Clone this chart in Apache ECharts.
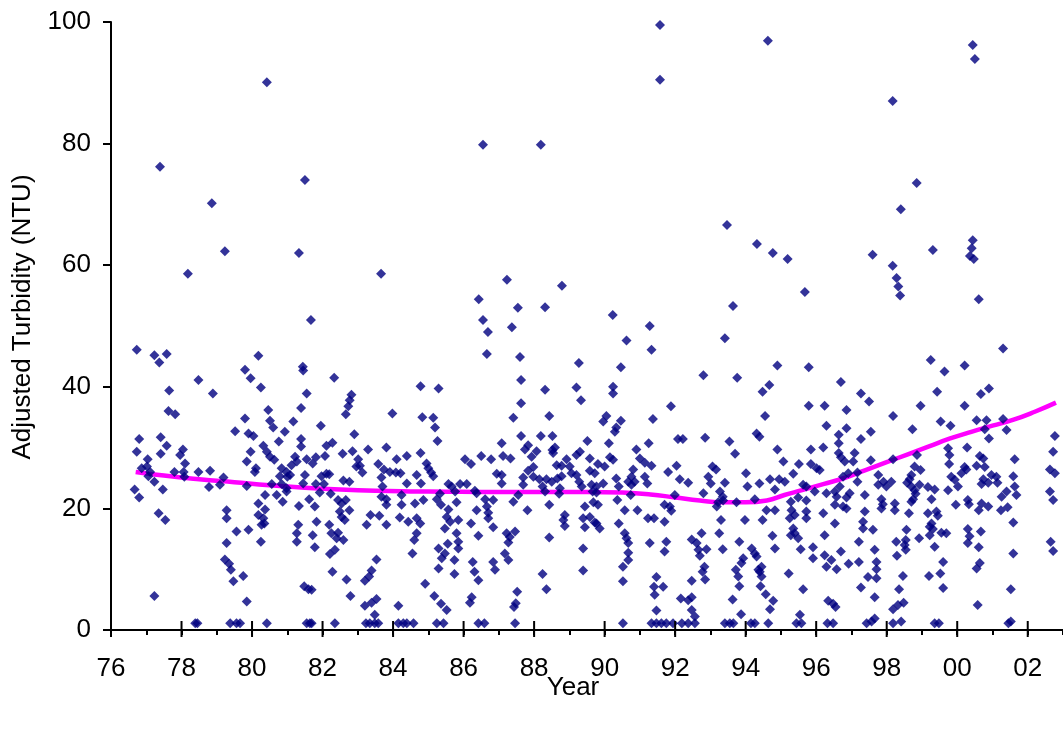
<!DOCTYPE html>
<html>
<head>
<meta charset="utf-8">
<script src="https://cdn.jsdelivr.net/npm/echarts@6/dist/echarts.min.js"></script>
<style>
html,body{margin:0;padding:0;background:#fff;}
#c{width:1063px;height:731px;}
</style>
</head>
<body>
<div id="c"></div>
<script>
// ---- Data (year, adjusted turbidity NTU) ----
const obs1976_1979 = [
[1976.73,46.1],[1977.23,45.2],[1977.37,44.0],[1977.58,45.4],[1978.48,41.1],[1978.89,38.9],[1977.65,39.4],[1977.63,36.0],
[1977.82,35.5],[1976.80,31.4],[1977.41,31.7],[1976.73,29.3],[1977.58,30.3],[1977.41,29.0],[1978.04,29.7],[1977.96,28.8],
[1977.04,28.1],[1978.10,27.4],[1976.87,26.6],[1977.02,26.9],[1977.11,26.0],[1977.06,25.3],[1977.80,26.0],[1978.06,26.0],
[1978.08,25.2],[1978.48,26.0],[1978.81,26.2],[1977.23,24.4],[1976.67,23.1],[1976.80,21.8],[1977.47,23.1],[1978.78,23.5],
[1977.35,19.2],[1977.54,18.1],[1977.23,5.6],[1978.39,1.1],[1978.45,1.1],[1977.39,76.2],[1978.18,58.6],[1978.86,70.2],
[1979.23,62.3]
];
const obs1979_1981 = [
[1980.18,45.1],[1979.80,42.8],[1979.96,41.4],[1980.25,39.9],[1981.44,43.3],[1981.45,42.7],[1981.55,38.9],[1980.46,36.2],
[1981.39,36.5],[1979.80,34.8],[1980.51,34.4],[1980.60,33.3],[1981.17,34.3],[1979.52,32.7],[1979.90,32.3],[1980.04,31.9],
[1980.93,32.6],[1980.76,31.0],[1981.39,31.4],[1980.32,30.3],[1981.39,30.2],[1980.42,29.3],[1979.96,29.3],[1980.51,28.5],
[1980.63,28.0],[1981.22,28.5],[1981.55,28.1],[1979.85,27.7],[1980.11,26.6],[1980.08,26.0],[1980.84,26.6],[1980.98,26.0],
[1981.12,27.1],[1981.27,27.7],[1980.79,25.3],[1981.00,25.2],[1981.08,25.5],[1981.50,25.5],[1979.09,23.9],[1979.19,25.1],
[1979.85,23.7],[1980.56,24.0],[1980.84,24.0],[1980.98,23.3],[1981.45,24.1],[1980.70,22.2],[1980.98,22.8],[1981.62,21.5],
[1980.37,22.2],[1980.18,20.8],[1980.87,21.1],[1981.33,20.4],[1979.28,19.7],[1979.28,18.4],[1980.37,19.8],[1980.18,18.9],
[1980.32,18.4],[1980.35,17.5],[1980.27,17.3],[1979.56,16.2],[1979.90,16.5],[1981.31,17.3],[1981.27,15.9],[1981.27,14.5],
[1979.28,14.3],[1980.25,14.5],[1979.23,11.6],[1979.35,10.9],[1979.40,9.9],[1979.47,8.0],[1979.75,8.9],[1979.85,4.7],
[1981.48,7.2],[1981.60,6.7],[1979.38,1.1],[1979.56,1.1],[1979.66,1.1],[1980.42,1.1],[1981.55,1.1],[1981.64,1.1],
[1980.42,90.1],[1981.50,74.0],[1981.33,62.0],[1981.67,51.0]
];
const obs1981_1984 = [
[1982.33,41.5],[1982.82,38.7],[1982.77,37.8],[1982.73,36.8],[1982.66,35.5],[1983.98,35.6],[1981.95,33.6],[1982.90,32.2],
[1982.28,30.8],[1982.11,30.3],[1982.57,29.0],[1982.85,29.4],[1983.29,29.7],[1983.81,30.0],[1981.81,28.4],[1982.07,28.6],
[1981.72,27.4],[1983.01,28.1],[1983.06,27.0],[1982.96,26.9],[1983.13,25.9],[1983.58,27.3],[1983.74,26.4],[1983.91,26.0],
[1984.08,25.9],[1984.21,25.8],[1984.10,28.1],[1981.97,25.3],[1982.11,25.7],[1982.19,25.6],[1981.81,24.0],[1982.04,24.0],
[1982.59,24.6],[1982.76,24.4],[1983.67,25.1],[1983.70,23.6],[1981.92,22.6],[1982.23,22.4],[1982.44,21.4],[1982.54,20.8],
[1982.66,21.4],[1983.67,21.9],[1983.81,21.5],[1983.81,20.6],[1984.24,22.2],[1984.24,20.6],[1981.78,20.3],[1982.49,19.5],
[1982.76,19.7],[1982.54,18.6],[1982.63,18.1],[1983.36,18.9],[1983.61,18.8],[1984.19,18.5],[1981.83,17.8],[1982.19,17.3],
[1983.25,17.3],[1983.81,17.3],[1981.72,15.6],[1982.25,15.9],[1982.44,16.0],[1982.40,15.1],[1982.59,14.8],[1981.78,13.6],
[1982.35,13.2],[1982.21,12.5],[1983.53,11.6],[1982.28,9.6],[1983.39,9.8],[1983.32,8.8],[1983.20,8.1],[1982.68,8.3],
[1981.69,6.6],[1982.79,5.6],[1983.53,5.1],[1983.39,4.5],[1983.20,4.0],[1983.48,2.5],[1984.15,4.0],[1981.69,1.1],
[1982.35,1.1],[1983.23,1.1],[1983.34,1.1],[1983.48,1.1],[1983.58,1.1],[1984.15,1.1],[1984.29,1.1],[1983.66,58.6]
];
const obs1984_1987 = [
[1986.66,45.4],[1984.78,40.1],[1985.29,39.7],[1984.83,35.0],[1985.14,34.9],[1985.19,33.3],[1985.26,31.1],[1984.39,28.6],
[1984.78,29.1],[1984.95,27.4],[1985.00,26.6],[1985.08,25.9],[1985.14,25.3],[1984.67,25.5],[1984.79,24.1],[1984.39,24.1],
[1986.04,28.1],[1986.21,27.3],[1986.50,28.6],[1986.78,28.1],[1986.94,25.7],[1985.57,24.0],[1985.66,23.6],[1985.76,22.8],
[1985.90,24.0],[1986.09,24.0],[1986.32,22.9],[1986.37,22.5],[1985.33,22.4],[1984.86,21.4],[1984.62,20.8],[1985.24,21.5],
[1985.36,20.6],[1985.80,21.0],[1986.61,21.5],[1986.84,21.4],[1986.66,20.3],[1985.57,19.8],[1986.37,19.7],[1986.70,19.3],
[1986.70,18.4],[1984.43,17.8],[1984.67,18.4],[1984.77,17.5],[1985.52,18.6],[1985.62,17.8],[1985.85,18.1],[1985.47,16.7],
[1986.21,17.5],[1986.84,16.9],[1985.80,15.9],[1986.42,15.5],[1984.67,15.9],[1984.60,14.8],[1985.85,14.5],[1985.85,13.4],
[1985.55,14.2],[1985.29,13.4],[1984.55,12.6],[1985.47,12.6],[1985.38,11.8],[1985.74,11.5],[1986.26,11.2],[1986.84,11.2],
[1986.89,9.9],[1985.29,10.1],[1986.31,9.6],[1985.74,9.2],[1986.42,8.2],[1984.91,7.6],[1985.17,5.6],[1986.23,5.4],
[1986.18,4.5],[1985.36,4.3],[1985.52,3.3],[1984.39,1.1],[1984.58,1.1],[1985.24,1.1],[1985.43,1.1],[1986.42,1.1],
[1986.59,1.1],[1986.43,54.4],[1986.55,51.0],[1986.69,49.0],[1986.55,79.8]
];
const obs1987_1989 = [
[1987.60,44.9],[1987.63,41.1],[1987.63,37.3],[1987.41,34.9],[1989.27,43.9],[1988.31,39.5],[1989.20,39.9],[1989.33,37.8],
[1988.43,35.2],[1987.63,31.9],[1988.19,31.9],[1988.52,31.9],[1987.08,30.7],[1987.83,30.4],[1987.74,29.7],[1988.07,29.4],
[1988.52,29.6],[1988.59,30.0],[1988.54,29.1],[1989.51,31.1],[1989.30,29.3],[1989.20,28.8],[1989.58,28.2],[1987.33,28.2],
[1987.12,28.6],[1987.93,28.5],[1988.92,28.1],[1987.98,26.8],[1987.83,26.2],[1988.64,27.1],[1988.78,27.0],[1989.01,26.9],
[1989.58,26.2],[1989.72,25.8],[1987.08,25.5],[1987.69,25.1],[1987.98,25.2],[1988.15,24.8],[1988.35,24.8],[1988.50,24.4],
[1988.66,24.9],[1988.78,25.3],[1989.06,25.8],[1989.20,25.5],[1989.28,24.4],[1987.69,23.9],[1988.24,23.6],[1988.31,22.8],
[1988.73,23.3],[1989.35,23.6],[1989.63,23.9],[1989.66,22.8],[1987.08,24.1],[1987.55,22.2],[1987.41,21.1],[1988.71,22.4],
[1988.43,20.6],[1989.44,20.3],[1989.68,21.0],[1987.81,19.7],[1988.87,18.9],[1989.39,18.4],[1989.58,18.6],[1988.83,18.1],
[1988.87,17.1],[1989.44,16.9],[1989.72,17.7],[1987.22,15.9],[1987.46,16.2],[1987.31,15.3],[1987.27,14.4],[1988.43,15.2],
[1989.39,13.4],[1987.17,12.6],[1987.27,11.5],[1989.39,9.8],[1988.24,9.2],[1988.35,6.7],[1987.52,6.3],[1987.48,4.4],
[1987.43,3.8],[1987.46,1.1],[1987.23,57.6],[1987.54,53.0],[1987.37,49.8],[1988.19,79.8],[1988.31,53.1],[1988.79,56.6]
];
const obs1989_1992 = [
[1990.62,47.6],[1991.33,46.1],[1990.46,43.2],[1990.24,40.0],[1990.24,38.9],[1991.88,36.8],[1990.05,35.2],[1989.96,34.3],
[1990.46,34.4],[1990.33,33.3],[1990.29,32.6],[1991.37,34.7],[1992.08,31.4],[1992.22,31.4],[1990.12,30.7],[1991.25,30.7],
[1990.90,29.7],[1991.00,28.2],[1991.14,27.5],[1991.33,27.0],[1990.15,28.4],[1990.24,28.0],[1989.81,27.3],[1990.00,26.9],
[1992.04,27.0],[1990.81,26.4],[1991.80,26.0],[1990.76,25.2],[1991.14,25.2],[1992.13,24.8],[1992.37,24.2],[1990.33,24.9],
[1989.96,24.1],[1990.67,24.4],[1990.85,24.4],[1991.21,24.1],[1990.40,23.6],[1990.76,23.9],[1989.77,23.6],[1989.77,22.6],
[1990.74,22.2],[1991.99,22.2],[1990.36,21.4],[1989.81,20.6],[1991.70,20.6],[1991.85,20.3],[1990.57,19.7],[1990.93,19.7],
[1991.89,19.6],[1991.23,18.4],[1991.40,18.4],[1991.70,17.8],[1989.77,17.5],[1989.86,16.7],[1990.40,17.5],[1990.57,15.9],
[1990.62,15.1],[1990.67,14.3],[1991.28,14.3],[1991.75,14.5],[1991.70,12.9],[1990.67,12.7],[1990.67,11.5],[1990.52,10.4],
[1990.52,8.0],[1991.47,8.7],[1991.40,7.1],[1991.66,7.1],[1991.42,5.8],[1992.16,5.2],[1992.37,4.9],[1991.47,3.2],
[1990.52,1.1],[1991.33,1.1],[1991.47,1.1],[1991.61,1.1],[1991.75,1.1],[1991.94,1.1],[1992.19,1.1],[1992.37,1.1],
[1990.23,51.8],[1991.28,50.0],[1991.57,99.5],[1991.57,90.5]
];
const obs1992_1995 = [
[1993.41,48.0],[1992.80,41.9],[1993.76,41.5],[1994.90,43.5],[1994.67,40.3],[1994.48,39.2],[1994.55,35.2],[1992.85,31.6],
[1993.54,31.0],[1993.70,29.0],[1994.31,32.3],[1994.39,31.8],[1994.90,29.7],[1995.07,27.7],[1993.06,26.9],[1993.16,26.4],
[1992.94,25.2],[1993.01,24.1],[1994.01,25.8],[1993.41,24.2],[1994.05,23.6],[1994.39,24.1],[1994.69,24.8],[1994.95,24.8],
[1995.11,24.4],[1992.80,22.5],[1993.27,22.8],[1993.35,21.9],[1993.22,21.0],[1993.18,20.3],[1993.36,21.3],[1993.74,21.0],
[1994.26,21.5],[1994.59,19.7],[1994.83,19.7],[1994.83,23.1],[1993.30,18.1],[1993.98,18.1],[1994.48,18.1],[1992.75,15.9],
[1993.25,15.9],[1992.47,14.9],[1992.61,14.3],[1992.66,13.2],[1992.89,13.3],[1992.70,12.2],[1993.35,13.3],[1993.82,14.5],
[1994.76,15.5],[1994.83,13.4],[1994.17,13.4],[1994.26,12.6],[1994.31,12.1],[1993.93,11.8],[1993.88,11.0],[1992.83,10.4],
[1992.78,9.6],[1992.85,8.3],[1993.72,9.9],[1993.79,8.8],[1993.82,7.2],[1994.45,10.4],[1994.40,9.6],[1994.36,9.9],
[1994.45,8.8],[1994.42,7.2],[1994.57,5.9],[1994.78,4.8],[1994.69,3.4],[1992.47,8.1],[1992.47,5.4],[1992.47,3.3],
[1992.56,2.2],[1993.63,5.0],[1993.87,2.6],[1992.56,1.1],[1993.41,1.1],[1993.55,1.1],[1993.65,1.1],[1994.15,1.1],
[1994.26,1.1],[1994.64,1.1],[1993.47,66.6],[1993.64,53.3],[1994.32,63.5],[1994.77,62.0],[1994.63,96.9],[1995.19,61.0]
];
const obs1995_1997 = [
[1995.79,43.2],[1996.70,40.8],[1997.27,38.9],[1997.50,37.6],[1995.79,36.9],[1996.24,36.9],[1996.86,36.2],[1996.29,33.6],
[1996.86,33.2],[1997.55,32.6],[1996.64,32.1],[1997.27,31.4],[1995.85,29.7],[1996.20,30.0],[1996.64,30.7],[1996.64,29.1],
[1997.09,29.1],[1996.70,28.4],[1996.81,27.7],[1997.05,27.7],[1997.55,27.9],[1995.51,27.3],[1995.85,27.3],[1996.01,26.6],
[1996.10,26.3],[1995.35,25.7],[1996.91,25.8],[1997.17,25.9],[1997.76,25.5],[1996.76,25.2],[1997.17,24.4],[1997.76,23.9],
[1995.63,23.9],[1995.72,23.6],[1996.67,23.6],[1996.53,22.8],[1996.58,21.9],[1995.96,22.8],[1996.29,22.5],[1996.95,22.5],
[1996.86,21.8],[1997.38,22.2],[1995.49,21.8],[1995.72,21.3],[1995.28,21.1],[1996.53,20.6],[1996.76,20.3],[1996.86,20.0],
[1995.30,19.7],[1995.39,18.9],[1995.25,18.4],[1995.72,19.5],[1995.72,18.4],[1996.20,19.2],[1997.38,19.5],[1996.53,17.5],
[1997.33,17.8],[1997.33,16.7],[1997.61,16.5],[1995.35,16.7],[1995.39,15.9],[1995.28,15.6],[1995.49,15.1],[1996.24,15.6],
[1997.21,14.5],[1995.56,13.3],[1995.91,13.6],[1997.66,13.2],[1995.91,11.8],[1996.24,12.3],[1996.70,12.9],[1996.43,11.5],
[1997.71,11.2],[1996.29,10.4],[1996.58,10.0],[1996.92,10.9],[1997.21,11.2],[1997.71,10.0],[1995.22,9.3],[1997.47,8.7],
[1997.71,8.5],[1997.27,7.0],[1995.63,6.7],[1997.66,5.4],[1996.34,4.8],[1996.48,4.3],[1996.55,3.8],[1995.54,2.5],
[1997.66,1.9],[1995.44,1.1],[1995.58,1.1],[1996.32,1.1],[1996.48,1.1],[1997.43,1.1],[1997.57,1.4],[1995.68,55.6],
[1997.60,61.7]
];
const obs1997_2000 = [
[1999.25,44.4],[2000.21,43.5],[1999.64,42.5],[1999.43,39.2],[1998.96,36.9],[2000.21,36.9],[1998.18,35.2],[1999.53,34.3],
[1999.81,33.6],[1998.73,33.0],[2000.28,30.0],[1999.74,29.9],[1998.86,28.8],[1999.78,28.8],[1998.18,28.1],[1999.77,27.3],
[1998.79,26.9],[1998.96,26.3],[2000.21,26.8],[1998.70,25.5],[1998.65,24.8],[1999.83,25.2],[2000.12,25.8],[2000.26,26.4],
[1997.91,24.4],[1998.13,24.4],[1997.99,23.6],[1998.58,24.2],[1998.70,23.6],[1998.93,23.9],[1999.17,23.5],[1999.36,23.1],
[1999.93,24.7],[2000.02,23.6],[1999.74,23.0],[1998.79,23.0],[1998.82,22.4],[1997.85,21.5],[1997.89,20.7],[1997.85,20.0],
[1998.70,21.1],[1998.75,21.5],[1999.27,21.5],[2000.30,21.4],[2000.33,20.7],[1999.96,20.6],[1998.23,20.8],[1998.23,19.7],
[1998.63,19.2],[1999.17,19.2],[1999.41,19.5],[1999.45,18.8],[1999.27,17.5],[1999.22,17.0],[1999.31,16.6],[1999.22,15.6],
[1999.55,16.0],[1999.69,15.9],[1998.56,16.5],[1998.92,15.1],[1998.27,14.5],[1998.54,14.8],[1998.51,14.0],[1998.54,13.2],
[1998.29,12.2],[1999.36,13.7],[2000.30,16.6],[2000.35,15.4],[2000.30,14.3],[1999.60,11.2],[1998.46,8.9],[1999.20,8.9],
[1999.52,9.3],[1999.60,6.9],[1998.35,6.7],[1998.48,4.5],[1998.32,4.1],[1998.18,3.4],[1998.41,1.4],[1998.18,1.1],
[1999.36,1.1],[1999.48,1.1],[1998.17,87.0],[1998.40,69.2],[1998.17,59.9],[1998.28,57.9],[1998.33,56.5],[1998.38,55.0],
[1998.85,73.5],[1999.31,62.5],[2000.44,96.2],[2000.50,93.9],[2000.44,64.1],[2000.41,62.8],[2000.36,61.5],[2000.47,61.0],
[2000.61,54.4]
];
const obs2000_2003 = [
[2001.30,46.3],[2000.67,38.8],[2000.90,39.7],[2000.55,34.5],[2000.83,34.5],[2001.30,34.7],[2000.78,33.0],[2001.40,32.9],
[2000.90,31.5],[2002.77,31.9],[2002.72,29.3],[2000.64,28.6],[2000.74,28.2],[2001.63,28.1],[2000.55,27.0],[2000.78,26.8],
[2002.63,26.4],[2002.77,25.8],[2001.59,25.3],[2000.97,25.5],[2001.11,25.2],[2000.74,24.8],[2000.88,24.2],[2000.69,24.0],
[2001.14,24.2],[2001.63,23.6],[2001.40,22.8],[2001.68,22.2],[2002.63,22.8],[2002.72,21.4],[2001.26,21.9],[2000.69,20.8],
[2000.88,20.3],[2000.61,19.7],[2001.24,19.7],[2001.43,20.2],[2001.59,17.7],[2000.67,16.2],[2000.61,13.6],[2002.65,14.5],
[2002.72,13.0],[2001.59,12.6],[2000.64,11.0],[2000.55,10.1],[2001.52,6.7],[2000.58,4.1],[2001.45,1.1],[2001.52,1.4]
];

// LOWESS-style trend line
const trendYears  = [1976.7,1977.5,1978.5,1979.5,1980.5,1981.5,1982.5,1983.5,1984.5,1985.5,1986.5,1987.5,1988.5,1989.5,1990.5,1991.3,1992.0,1992.7,1993.4,1994.0,1994.6,1995.1,1995.6,1996.2,1996.8,1997.4,1998.0,1998.6,1999.2,1999.8,2000.4,2001.0,2001.6,2002.2,2002.8];
const trendValues = [26.0,25.4,24.8,24.3,23.8,23.4,23.1,22.9,22.8,22.75,22.7,22.7,22.7,22.7,22.6,22.3,21.8,21.3,21.0,21.0,21.3,22.2,23.0,24.0,25.0,26.3,27.6,28.9,30.2,31.5,32.6,33.6,34.6,35.9,37.4];

// Axis: years 1976..2003, labelled every 2 years as two-digit years
const xMin = 1976, xMax = 2003;
const xTickYears  = [1976,1978,1980,1982,1984,1986,1988,1990,1992,1994,1996,1998,2000,2002];
const xTickLabels = ['76','78','80','82','84','86','88','90','92','94','96','98','00','02'];
const yTicks = [0,20,40,60,80,100];
const xTitle = 'Year';
const yTitle = 'Adjusted Turbidity (NTU)';

// ---- Chart ----
const observations = [].concat(obs1976_1979, obs1979_1981, obs1981_1984, obs1984_1987, obs1987_1989,
                               obs1989_1992, obs1992_1995, obs1995_1997, obs1997_2000, obs2000_2003);
const trend = trendYears.map((y, i) => [y, trendValues[i]]);

const FONT = "'Liberation Sans', Arial, sans-serif";
const FS = 26;

const chart = echarts.init(document.getElementById('c'), null, {renderer: 'canvas'});
chart.setOption({
  animation: false,
  backgroundColor: '#fff',
  grid: {left: 111, right: 0, top: 22, bottom: 101},
  xAxis: {
    type: 'value', min: xMin, max: xMax, interval: 1,
    axisLine: {lineStyle: {color: '#000', width: 2}},
    axisTick: {length: 5, lineStyle: {color: '#000', width: 2}},
    splitLine: {show: false},
    axisLabel: {show: false}
  },
  yAxis: {
    type: 'value', min: yTicks[0], max: yTicks[yTicks.length - 1], interval: 20,
    axisLine: {show: true, lineStyle: {color: '#000', width: 2}},
    axisTick: {show: true, length: 8, lineStyle: {color: '#000', width: 2}},
    splitLine: {show: false},
    axisLabel: {color: '#000', fontFamily: FONT, fontSize: FS, margin: 20}
  },
  series: [
    {
      type: 'line', data: trend, smooth: true, showSymbol: false, symbol: 'none',
      lineStyle: {color: '#FF00FF', width: 4.5}, z: 2
    },
    {
      type: 'scatter', data: observations, symbol: 'diamond', symbolSize: 10,
      itemStyle: {color: '#000080'}, z: 3
    }
  ]
});

// x tick labels and major (crossing) tick marks placed through the chart's own x scale
const graphics = [];
xTickYears.forEach((yr, i) => {
  const p = chart.convertToPixel({xAxisIndex: 0, yAxisIndex: 0}, [yr, yTicks[0]]);
  graphics.push({
    type: 'line', z: 20, silent: true,
    shape: {x1: p[0], y1: p[1] - 9, x2: p[0], y2: p[1] + 7},
    style: {stroke: '#000', lineWidth: 2}
  });
  graphics.push({
    type: 'text', z: 20, silent: true, x: p[0], y: p[1] + 39,
    style: {text: xTickLabels[i], font: FS + 'px ' + FONT, fill: '#000', align: 'center', verticalAlign: 'middle'}
  });
});
graphics.push({
  type: 'text', x: 573, y: 688, z: 20, silent: true,
  style: {text: xTitle, font: FS + 'px ' + FONT, fill: '#000', align: 'center', verticalAlign: 'middle'}
});
graphics.push({
  type: 'text', x: 23, y: 317, rotation: Math.PI / 2, z: 20, silent: true,
  style: {text: yTitle, font: FS + 'px ' + FONT, fill: '#000', align: 'center', verticalAlign: 'middle'}
});
chart.setOption({graphic: graphics});
</script>
</body>
</html>
